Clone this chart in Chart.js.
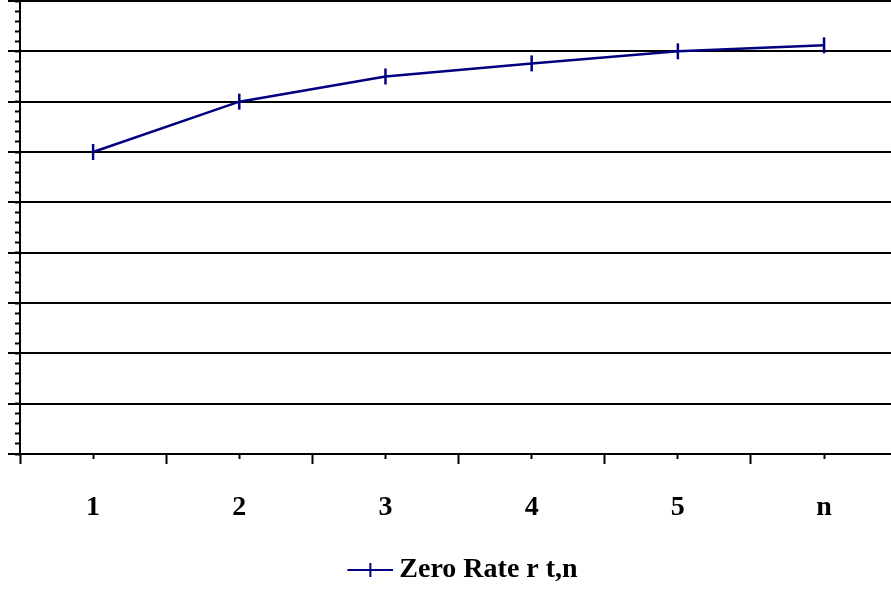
<!DOCTYPE html>
<html>
<head>
<meta charset="utf-8">
<script src="https://cdn.jsdelivr.net/npm/chart.js@4.4.0/dist/chart.umd.min.js"></script>
<style>
    html, body { margin: 0; padding: 0; background: #fff; }
    canvas { display: block; }
</style>
</head>
<body>
<canvas id="zeroRateChart" width="891" height="594"></canvas>
<script>
const categories = ["1", "2", "3", "4", "5", "n"];
const zeroRate = [6.0, 7.0, 7.5, 7.76, 8.0, 8.12];
const yMin = 0;
const yMax = 9;
const majorStep = 1;
const minorStep = 0.2;
// x range: half a category before the first one, the last category is clipped a bit at the right
const xMin = -0.5;
const xMax = 5.458;

const navy = "#000080";
const serif = "'Liberation Serif', 'Times New Roman', serif";

// Legend icon: horizontal line with a vertical tick in the middle
// (left part of the canvas is empty to push the icon towards the text)
function legendIcon() {
    const c = document.createElement("canvas");
    c.width = 68;
    c.height = 16;
    const g = c.getContext("2d");
    g.strokeStyle = navy;
    g.lineWidth = 2;
    g.beginPath();
    g.moveTo(22, 8);
    g.lineTo(68, 8);
    g.moveTo(45, 1);
    g.lineTo(45, 15);
    g.stroke();
    return c;
}

const points = zeroRate.map((v, i) => ({ x: i, y: v }));

const ctx = document.getElementById("zeroRateChart");

new Chart(ctx, {
    type: "line",
    data: {
        datasets: [
            {
                label: "Zero Rate r t,n",
                data: points,
                borderColor: navy,
                backgroundColor: navy,
                borderWidth: 2.5,
                tension: 0,
                pointStyle: "line",
                pointRotation: 90,
                pointRadius: 8,
                pointBorderWidth: 2.5,
                pointBorderColor: navy,
            },
        ],
    },
    options: {
        responsive: false,
        animation: false,
        events: [],
        layout: {
            autoPadding: false,
            padding: { top: 1, left: 0, right: 0, bottom: 0 },
        },
        scales: {
            // labels + small ticks at the categories
            x: {
                type: "linear",
                min: xMin,
                max: xMax,
                weight: 1,
                afterBuildTicks: (scale) => {
                    scale.ticks = categories.map((_, i) => ({ value: i }));
                },
                grid: {
                    drawOnChartArea: false,
                    tickLength: 5,
                    tickWidth: 2,
                    tickColor: "#000",
                },
                border: { color: "#000", width: 2 },
                ticks: {
                    color: "#000",
                    font: { family: serif, size: 28, weight: "bold" },
                    padding: 32,
                    maxRotation: 0,
                    autoSkip: false,
                    callback: (value) => categories[value],
                },
                afterFit: (scale) => { scale.height = 93; },
            },
            // longer ticks between categories
            xBounds: {
                type: "linear",
                position: "bottom",
                min: xMin,
                max: xMax,
                weight: 0,
                afterBuildTicks: (scale) => {
                    scale.ticks = categories.map((_, i) => ({ value: i - 0.5 }));
                },
                grid: {
                    drawOnChartArea: false,
                    tickLength: 10,
                    tickWidth: 2,
                    tickColor: "#000",
                },
                border: { display: false },
                ticks: { display: false },
                afterFit: (scale) => { scale.height = 0; },
            },
            y: {
                position: "left",
                min: yMin,
                max: yMax,
                weight: 1,
                grid: {
                    color: "#000",
                    lineWidth: 2,
                    tickLength: 12,
                    tickWidth: 2,
                    tickColor: "#000",
                },
                border: { color: "#000", width: 2 },
                ticks: { display: false, stepSize: majorStep, maxTicksLimit: 100 },
                afterFit: (scale) => { scale.width = 20; },
            },
            yMinor: {
                position: "left",
                min: yMin,
                max: yMax,
                weight: 0,
                grid: {
                    drawOnChartArea: false,
                    tickLength: 5,
                    tickWidth: 2,
                    tickColor: "#000",
                },
                border: { display: false },
                ticks: { display: false, stepSize: minorStep, maxTicksLimit: 100 },
                afterFit: (scale) => { scale.width = 0; },
            },
        },
        plugins: {
            tooltip: { enabled: false },
            legend: {
                position: "bottom",
                fullSize: false,
                labels: {
                    usePointStyle: true,
                    pointStyle: legendIcon(),
                    pointStyleWidth: 52,
                    color: "#000",
                    font: { family: serif, size: 28, weight: "bold" },
                    padding: 9,
                    generateLabels: (chart) =>
                        Chart.defaults.plugins.legend.labels
                            .generateLabels(chart)
                            .map((item) => ({ ...item, rotation: 0 })),
                },
            },
        },
    },
});
</script>
</body>
</html>
